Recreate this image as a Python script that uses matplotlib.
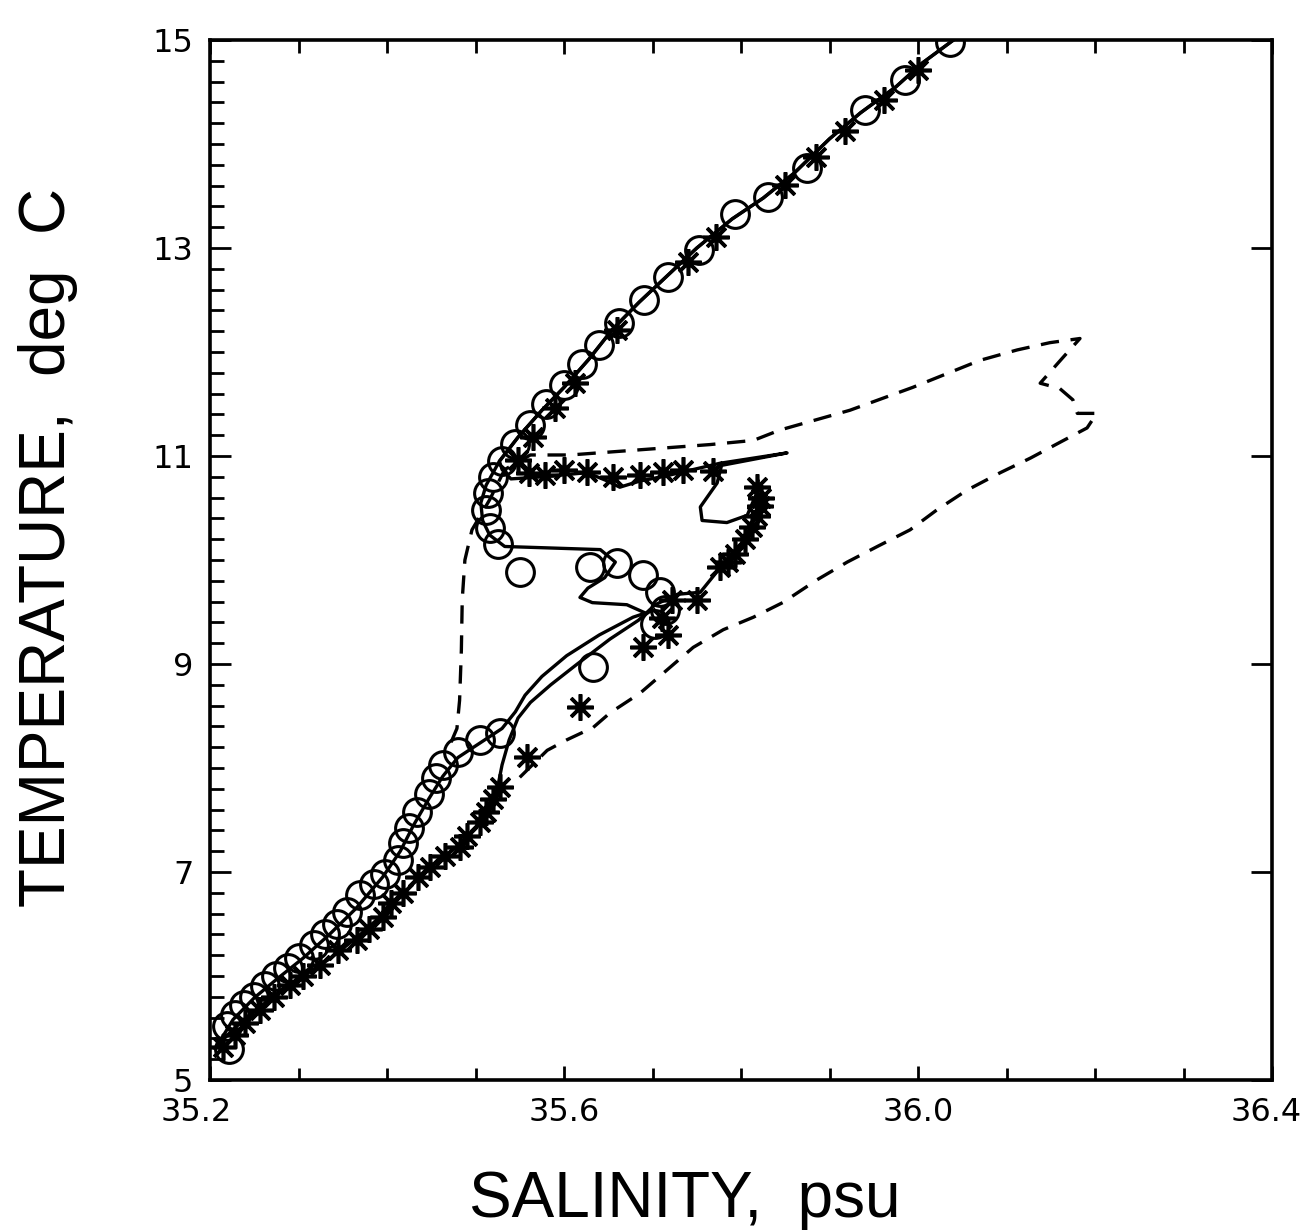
import numpy as np
import matplotlib
matplotlib.use("Agg")
import matplotlib.pyplot as plt
from matplotlib.ticker import MultipleLocator, FixedLocator
from matplotlib.transforms import ScaledTranslation

# --- shared upper part of the two CTD profiles (salinity psu, temperature deg C)
upper_s = [36.040, 36.005, 35.975, 35.935, 35.900, 35.860, 35.825, 35.790, 35.750,
           35.715, 35.685, 35.655, 35.628, 35.600, 35.575, 35.548, 35.527]
upper_t = [15.00, 14.78, 14.55, 14.30, 14.05, 13.72, 13.48, 13.28, 13.00,
           12.72, 12.48, 12.22, 11.93, 11.66, 11.44, 11.18, 10.95]

# profile A (solid, follows the circles)
prof_a_s = [35.512, 35.506, 35.508, 35.516, 35.533, 35.569, 35.641, 35.658, 35.646,
            35.627, 35.618, 35.632, 35.671, 35.692, 35.678, 35.640, 35.603, 35.575,
            35.556, 35.545, 35.530, 35.505, 35.480, 35.463, 35.447, 35.430, 35.415,
            35.395, 35.365, 35.335, 35.305, 35.277, 35.250, 35.226, 35.206]
prof_a_t = [10.72, 10.55, 10.38, 10.24, 10.13, 10.12, 10.10, 9.98, 9.83,
            9.73, 9.64, 9.59, 9.57, 9.49, 9.45, 9.28, 9.08, 8.88,
            8.70, 8.54, 8.38, 8.24, 8.10, 7.92, 7.70, 7.45, 7.20,
            6.95, 6.65, 6.40, 6.17, 5.98, 5.79, 5.58, 5.30]

# profile B (solid, follows the stars)
prof_b_s = [35.530, 35.540, 35.576, 35.626, 35.649, 35.663, 35.686, 35.716, 35.746,
            35.776, 35.852, 35.778, 35.773, 35.754, 35.756, 35.784, 35.807, 35.817,
            35.819, 35.818, 35.808, 35.793, 35.774, 35.754, 35.728, 35.703, 35.684,
            35.652, 35.615, 35.585, 35.562, 35.548, 35.538, 35.530, 35.524, 35.508,
            35.482, 35.451, 35.420, 35.395, 35.366, 35.336, 35.302, 35.273, 35.245,
            35.223, 35.206]
prof_b_t = [10.87, 10.78, 10.80, 10.84, 10.76, 10.70, 10.76, 10.81, 10.87,
            10.93, 11.03, 10.91, 10.74, 10.51, 10.38, 10.36, 10.43, 10.63,
            10.77, 10.48, 10.24, 10.07, 9.90, 9.69, 9.67, 9.57, 9.42,
            9.24, 9.00, 8.80, 8.63, 8.48, 8.27, 8.03, 7.77, 7.50,
            7.26, 7.06, 6.81, 6.59, 6.37, 6.17, 5.98, 5.81, 5.63,
            5.46, 5.31]

# profile C (dashed)
prof_c_s = [35.550, 35.581, 35.603, 35.633, 35.652, 35.686, 35.716, 35.746, 35.780,
            35.814, 35.847, 35.886, 35.920, 35.954, 35.991, 36.021, 36.055, 36.093,
            36.127, 36.160, 36.191, 36.202, 36.180, 36.175, 36.160, 36.138, 36.164,
            36.183, 36.149, 36.112, 36.070, 35.994, 35.923, 35.844, 35.814, 35.765,
            35.686, 35.607, 35.562, 35.533, 35.516, 35.496, 35.488, 35.485, 35.484,
            35.482, 35.479, 35.471]
prof_c_t = [7.91, 8.17, 8.27, 8.39, 8.53, 8.72, 8.94, 9.16, 9.33,
            9.45, 9.59, 9.81, 9.98, 10.13, 10.29, 10.48, 10.67, 10.84,
            10.98, 11.13, 11.27, 11.41, 11.41, 11.54, 11.65, 11.70, 11.95,
            12.13, 12.09, 12.02, 11.92, 11.66, 11.44, 11.25, 11.15, 11.11,
            11.06, 11.01, 11.01, 10.87, 10.58, 10.29, 10.00, 9.62, 9.13,
            8.65, 8.38, 8.22]

# bottle samples, circles
circ_s = [36.036, 35.985, 35.940, 35.875, 35.831, 35.793, 35.752, 35.718, 35.690,
          35.662, 35.640, 35.620, 35.600, 35.580, 35.562, 35.545, 35.530, 35.520,
          35.514, 35.512, 35.516, 35.525, 35.550, 35.629, 35.660, 35.689, 35.708,
          35.714, 35.703, 35.633,
          35.528, 35.505, 35.480, 35.463, 35.455, 35.447, 35.434, 35.425, 35.418,
          35.412, 35.398, 35.385, 35.370, 35.355, 35.343, 35.330, 35.318, 35.300,
          35.288, 35.275, 35.262, 35.250, 35.238, 35.228, 35.219, 35.222]
circ_t = [14.98, 14.62, 14.33, 13.77, 13.49, 13.33, 12.98, 12.72, 12.50,
          12.28, 12.07, 11.88, 11.68, 11.50, 11.30, 11.12, 10.95, 10.80,
          10.64, 10.48, 10.31, 10.15, 9.88, 9.93, 9.97, 9.86, 9.69,
          9.52, 9.38, 8.97,
          8.34, 8.27, 8.15, 8.03, 7.90, 7.75, 7.58, 7.42, 7.28,
          7.12, 6.98, 6.88, 6.78, 6.62, 6.50, 6.40, 6.30, 6.17,
          6.08, 6.00, 5.90, 5.80, 5.72, 5.62, 5.52, 5.30]

# bottle samples, stars
star_s = [36.000, 35.962, 35.918, 35.885, 35.850, 35.772, 35.740, 35.660, 35.612,
          35.590, 35.565, 35.548, 35.560, 35.578, 35.600, 35.626, 35.655, 35.686,
          35.712, 35.734, 35.768, 35.818, 35.823, 35.821, 35.818, 35.812, 35.805,
          35.793, 35.785, 35.776, 35.750, 35.722, 35.711, 35.718, 35.689, 35.618,
          35.558,
          35.528, 35.520, 35.512, 35.505, 35.490, 35.482, 35.465, 35.449, 35.435,
          35.418, 35.405, 35.395, 35.380, 35.366, 35.345, 35.324, 35.305, 35.290,
          35.272, 35.256, 35.240, 35.228, 35.215]
star_t = [14.71, 14.42, 14.13, 13.88, 13.61, 13.11, 12.87, 12.21, 11.70,
          11.46, 11.18, 10.96, 10.84, 10.82, 10.87, 10.85, 10.80, 10.82,
          10.85, 10.87, 10.86, 10.70, 10.60, 10.52, 10.42, 10.32, 10.20,
          10.06, 9.98, 9.93, 9.62, 9.62, 9.44, 9.28, 9.16, 8.59,
          8.11,
          7.82, 7.70, 7.58, 7.48, 7.35, 7.24, 7.15, 7.05, 6.95,
          6.80, 6.70, 6.57, 6.45, 6.35, 6.25, 6.11, 6.00, 5.91,
          5.80, 5.67, 5.55, 5.43, 5.32]

x_ticks = [35.2, 35.6, 36.0, 36.4]
x_labels = ["35.2", "35.6", "36.0", "36.4"]
y_ticks = [5, 7, 9, 11, 13, 15]

fig = plt.figure(figsize=(13.06, 12.32), dpi=100)
ax = fig.add_axes([0.1608, 0.1234, 0.8132, 0.8441])

lw = 2.4
ax.plot(upper_s + prof_a_s, upper_t + prof_a_t, color="black", lw=lw)
ax.plot(upper_s + prof_b_s, upper_t + prof_b_t, color="black", lw=lw)
ax.plot(prof_c_s, prof_c_t, color="black", lw=lw, dashes=(5.5, 3.5))

ax.plot(circ_s, circ_t, ls="none", marker="o", ms=20, mfc="none",
        mec="black", mew=2.2)
ax.plot(star_s, star_t, ls="none", marker=(8, 2, 0), ms=19,
        mec="black", mew=2.6)

ax.set_xlim(35.2, 36.4)
ax.set_ylim(5, 15)

ax.xaxis.set_major_locator(FixedLocator(x_ticks))
ax.set_xticklabels(x_labels)
ax.xaxis.set_minor_locator(MultipleLocator(0.1))
ax.yaxis.set_major_locator(FixedLocator(y_ticks))
ax.yaxis.set_minor_locator(MultipleLocator(0.2))

ax.tick_params(which="both", direction="in", top=True, right=True, width=2,
               color="black")
ax.tick_params(axis="both", which="major", labelsize=23)
ax.tick_params(axis="x", which="major", length=10, pad=12)
ax.tick_params(axis="x", which="minor", length=9)
ax.tick_params(axis="y", which="major", length=15, pad=12)
ax.tick_params(axis="y", which="minor", length=10, right=False)

# nudge the end labels inward like the original plot
xl = ax.get_xticklabels()
xl[0].set_transform(xl[0].get_transform() + ScaledTranslation(-14 / 100, 0, fig.dpi_scale_trans))
xl[-1].set_transform(xl[-1].get_transform() + ScaledTranslation(-6 / 100, 0, fig.dpi_scale_trans))

for sp in ax.spines.values():
    sp.set_linewidth(2.6)

fig.text(0.5245, 0.026, "SALINITY,  psu", ha="center", va="center",
         fontsize=46, family=["Liberation Sans", "DejaVu Sans"])
fig.text(0.037, 0.556, "TEMPERATURE,  deg  C", ha="center", va="center",
         rotation=90, fontsize=46, family=["Liberation Sans", "DejaVu Sans"])

fig.savefig("out.png", dpi=100, facecolor="white")
